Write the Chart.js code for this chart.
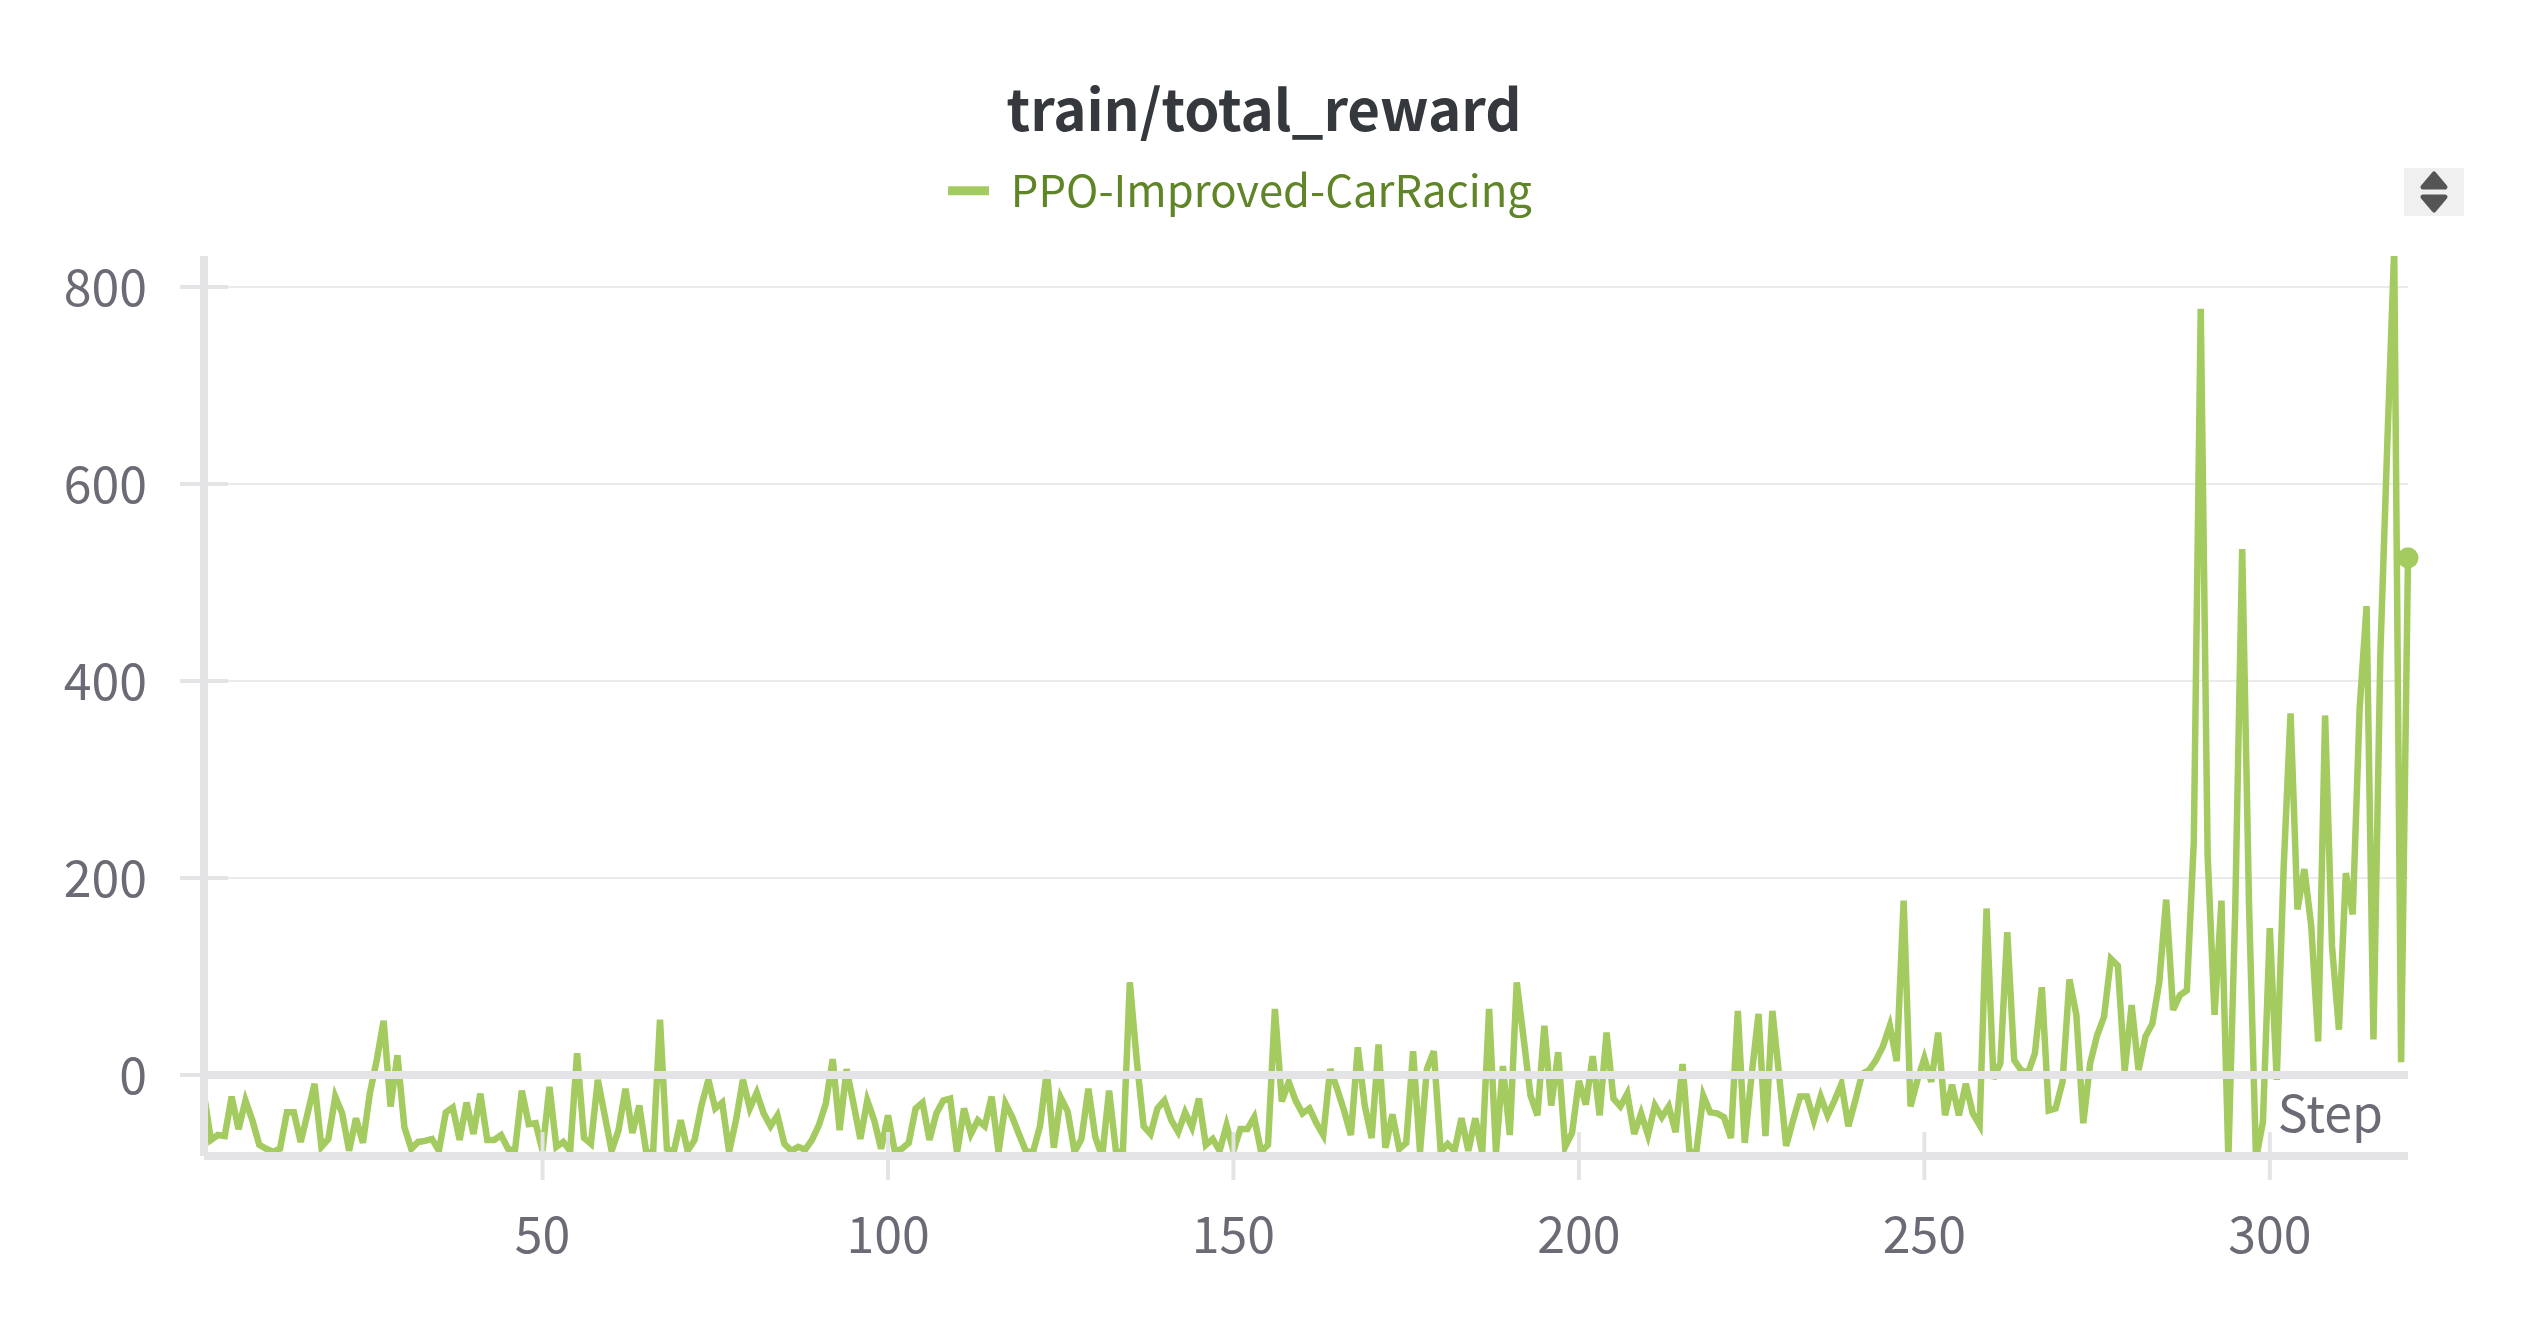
<!DOCTYPE html>
<html>
<head>
<meta charset="utf-8">
<title>train/total_reward</title>
<script src="https://cdn.jsdelivr.net/npm/chart.js@4"></script>
<style>
  html, body { margin: 0; padding: 0; background: #fff; }
  #wrap { width: 2528px; height: 1328px; }
</style>
</head>
<body>
<div id="wrap"><canvas id="rewardChart"></canvas></div>
<script>
// values, one per step starting at step 1
var rewards = [
  -20, -66, -61, -62, -22, -55, -26, -46, -71, -75,
  -78, -75, -38, -38, -68, -39, -9, -73, -65, -22,
  -39, -77, -44, -69, -19, 15, 55, -32, 20, -53,
  -75, -68, -67, -65, -77, -38, -33, -66, -28, -60,
  -19, -66, -66, -61, -75, -77, -16, -50, -49, -77,
  -12, -73, -68, -77, 22, -64, -70, -5, -41, -77,
  -56, -14, -59, -31, -78, -79, 56, -75, -78, -46,
  -77, -66, -31, -5, -34, -28, -78, -46, -5, -34,
  -18, -39, -52, -41, -70, -77, -73, -76, -66, -51,
  -29, 16, -56, 6, -29, -65, -26, -46, -75, -41,
  -78, -75, -69, -34, -28, -66, -39, -26, -24, -79,
  -34, -60, -46, -52, -22, -78, -29, -43, -61, -78,
  -78, -52, 4, -74, -23, -37, -78, -65, -14, -63,
  -83, -16, -78, -78, 94, 15, -52, -60, -34, -26,
  -46, -58, -38, -53, -24, -71, -65, -77, -51, -77,
  -55, -55, -43, -78, -71, 67, -27, -7, -26, -39,
  -34, -49, -61, 6, -14, -36, -61, 28, -31, -64,
  31, -74, -40, -75, -69, 24, -78, 6, 24, -78,
  -70, -77, -44, -77, -44, -79, 67, -79, 9, -61,
  94, 37, -21, -41, 50, -31, 23, -73, -59, -6,
  -30, 19, -41, 43, -24, -32, -19, -60, -39, -61,
  -31, -43, -32, -58, 11, -78, -78, -21, -38, -39,
  -43, -64, 65, -69, 0, 62, -62, 65, -2, -72,
  -46, -22, -22, -46, -22, -41, -26, -9, -52, -26,
  1, 5, 15, 29, 50, 14, 177, -32, -5, 17,
  -7, 43, -41, -10, -41, -9, -39, -51, 169, -4,
  12, 145, 15, 5, 2, 22, 89, -36, -34, -7,
  97, 61, -49, 12, 40, 59, 118, 111, 4, 71,
  5, 39, 52, 94, 178, 66, 81, 86, 237, 778,
  223, 61, 177, -85, 170, 534, 170, -85, -48, 149,
  -5, 210, 367, 168, 209, 151, 34, 365, 131, 46,
  205, 163, 372, 476, 36, 428, 640, 838, 13, 525
];
var steps = rewards.map(function (v, i) { return i + 1; });

var xTicks = [50, 100, 150, 200, 250, 300];
var yTicks = [0, 200, 400, 600, 800];

var runName = 'PPO-Improved-CarRacing';
var lineColor = '#a3cb5f';
var legendText = '#5f8526';
var axisColor = '#e4e4e7';
var tickText = '#6b6b76';
var fontName = '"Noto Sans CJK SC", "Noto Sans", sans-serif';

// thick zero line, axes and tick marks sit on top of the line in the original
var axisOverlay = {
  id: 'axisOverlay',
  afterLayout: function (chart) {
    // title is centred on the page, legend a little left of it and closer to the title
    chart.titleBlock.left = 0;
    chart.titleBlock.right = chart.width;
    chart.legend.right = chart.width - 48;
    chart.legend.top -= 33.5;
  },
  beforeDatasetsDraw: function (chart) {
    // sharp spikes get flat tops like the original
    chart.ctx.miterLimit = 4;
  },
  afterDatasetsDraw: function (chart) {
    var ctx = chart.ctx;
    var area = chart.chartArea;
    var x = chart.scales.x;
    var y = chart.scales.y;
    ctx.save();
    ctx.strokeStyle = axisColor;

    ctx.lineWidth = 8;
    ctx.beginPath();
    ctx.moveTo(area.left, y.getPixelForValue(0));
    ctx.lineTo(area.right, y.getPixelForValue(0));
    ctx.moveTo(area.left, area.bottom);
    ctx.lineTo(area.right, area.bottom);
    ctx.moveTo(area.left, area.top);
    ctx.lineTo(area.left, area.bottom);
    ctx.stroke();

    ctx.lineWidth = 4;
    ctx.beginPath();
    xTicks.forEach(function (t) {
      var px = x.getPixelForValue(t);
      ctx.moveTo(px, area.bottom - 24);
      ctx.lineTo(px, area.bottom + 24);
    });
    yTicks.forEach(function (t) {
      var py = y.getPixelForValue(t);
      ctx.moveTo(area.left - 24, py);
      ctx.lineTo(area.left + 24, py);
    });
    ctx.stroke();

    ctx.fillStyle = tickText;
    ctx.font = '50px ' + fontName;
    ctx.textAlign = 'right';
    ctx.textBaseline = 'alphabetic';
    ctx.fillText('Step', area.right - 25, 1132);

    // sort button in the top right corner
    ctx.fillStyle = '#f0f0f0';
    ctx.fillRect(2404, 168, 60, 48);
    ctx.fillStyle = '#555555';
    ctx.strokeStyle = '#555555';
    ctx.lineWidth = 5;
    ctx.lineJoin = 'round';
    ctx.beginPath();
    ctx.moveTo(2434, 174);
    ctx.lineTo(2445, 187);
    ctx.lineTo(2423, 187);
    ctx.closePath();
    ctx.moveTo(2434, 210);
    ctx.lineTo(2445, 197);
    ctx.lineTo(2423, 197);
    ctx.closePath();
    ctx.fill();
    ctx.stroke();
    ctx.restore();
  }
};

window.onload = function () {
  var ctx = document.getElementById('rewardChart').getContext('2d');
  new Chart(ctx, {
    type: 'line',
    data: {
      datasets: [{
        label: runName,
        data: steps.map(function (s, i) { return { x: s, y: rewards[i] }; }),
        borderColor: lineColor,
        backgroundColor: lineColor,
        borderWidth: 6.5,
        tension: 0,
        fill: false,
        clip: { left: 0, top: 0, right: 14, bottom: 0 },
        pointBorderWidth: 0,
        pointRadius: function (c) { return c.dataIndex === rewards.length - 1 ? 10.5 : 0; }
      }]
    },
    plugins: [axisOverlay],
    options: {
      responsive: false,
      animation: false,
      events: [],
      layout: { padding: { top: 4, right: 120, left: 0, bottom: 0 } },
      plugins: {
        title: {
          display: true,
          text: 'train/total_reward',
          color: '#35393d',
          font: { family: fontName, size: 56.4, weight: '700' },
          padding: { top: 72, bottom: 38.7 }
        },
        legend: {
          display: true,
          position: 'top',
          labels: {
            color: legendText,
            font: { family: fontName, size: 43.6 },
            boxWidth: 41,
            boxHeight: 9,
            padding: 20,
            useBorderRadius: true,
            borderRadius: 4,
            generateLabels: function () {
              return [{ text: runName, fillStyle: lineColor, strokeStyle: 'transparent', fontColor: legendText, lineWidth: 0, datasetIndex: 0 }];
            }
          }
        },
        tooltip: { enabled: false }
      },
      scales: {
        x: {
          type: 'linear',
          min: 1,
          max: 320,
          grid: { display: false },
          border: { display: false },
          afterBuildTicks: function (scale) {
            scale.ticks = xTicks.map(function (t) { return { value: t }; });
          },
          afterFit: function (scale) { scale.height = 1328 - 1156; },
          ticks: {
            color: tickText,
            font: { family: fontName, size: 50 },
            padding: 40,
            maxRotation: 0,
            autoSkip: false
          }
        },
        y: {
          type: 'linear',
          min: -82.3,
          max: 831.5,
          grid: { color: '#ebebed', lineWidth: 2, drawTicks: false },
          border: { display: false },
          afterBuildTicks: function (scale) {
            scale.ticks = yTicks.map(function (t) { return { value: t }; });
          },
          afterFit: function (scale) { scale.width = 204; },
          ticks: {
            color: tickText,
            font: { family: fontName, size: 50 },
            padding: 57,
            autoSkip: false
          }
        }
      }
    }
  });
};

// canvas size has to be set before the chart reads it
var canvas = document.getElementById('rewardChart');
canvas.width = 2528;
canvas.height = 1328;
</script>
</body>
</html>
